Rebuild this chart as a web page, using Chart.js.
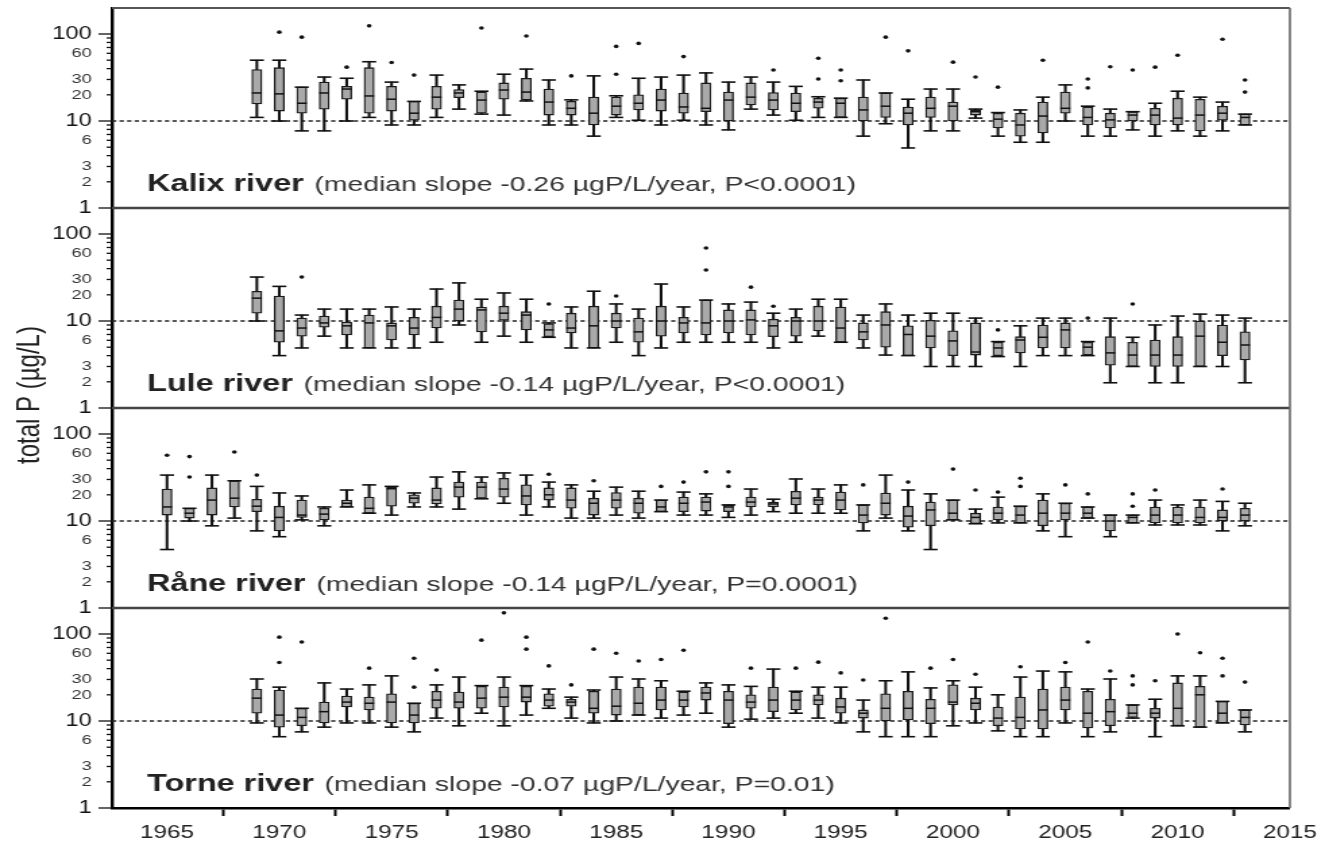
<!DOCTYPE html>
<html>
<head>
<meta charset="utf-8">
<script src="https://cdn.jsdelivr.net/npm/chart.js@4.4.1/dist/chart.umd.min.js"></script>
<style>
  html, body { margin: 0; padding: 0; background: #fff; }
  /* the original figure is stretched sideways, so the canvas is too */
  #chart { display: block; width: 1325px !important; height: 842px !important; }
</style>
</head>
<body>
<canvas id="chart" width="982" height="842" style="width:1325px;height:842px"></canvas>
<script>
const fontFamily = '"Liberation Sans", Arial, Helvetica, sans-serif';

const riverNames = ['Kalix river', 'Lule river', 'Råne river', 'Torne river'];
const riverNotes = [
  '(median slope -0.26 µgP/L/year, P<0.0001)',
  '(median slope -0.14 µgP/L/year, P<0.0001)',
  '(median slope -0.14 µgP/L/year, P=0.0001)',
  '(median slope -0.07 µgP/L/year, P=0.01)'
];
const yTitle = 'total P (µg/L)';

const xTickYears = [1965, 1970, 1975, 1980, 1985, 1990, 1995, 2000, 2005, 2010, 2015];
const yTickValues = [1, 2, 3, 4, 5, 6, 7, 8, 9, 10, 20, 30, 40, 50, 60, 70, 80, 90, 100];
const yTickLabels = [1, 2, 3, 6, 10, 20, 30, 60, 100];
const yMajorValues = [1, 10, 100];
const refLevel = 10;

const years69 = [1969, 1970, 1971, 1972, 1973, 1974, 1975, 1976, 1977, 1978, 1979, 1980, 1981, 1982, 1983,
  1984, 1985, 1986, 1987, 1988, 1989, 1990, 1991, 1992, 1993, 1994, 1995, 1996, 1997, 1998, 1999, 2000,
  2001, 2002, 2003, 2004, 2005, 2006, 2007, 2008, 2009, 2010, 2011, 2012, 2013];
const years65 = [1965, 1966, 1967, 1968, 1969, 1970, 1971, 1972, 1973, 1974, 1975, 1976, 1977, 1978, 1979,
  1980, 1981, 1982, 1983, 1984, 1985, 1986, 1987, 1988, 1989, 1990, 1991, 1992, 1993, 1994, 1995, 1996,
  1997, 1998, 1999, 2000, 2001, 2002, 2003, 2004, 2005, 2006, 2007, 2008, 2009, 2010, 2011, 2012, 2013];

// Kalix
const kalixLow = [11, 10, 7.7, 7.7, 10, 11, 9, 9, 11, 13.7, 12, 11.7, 17, 9, 9, 6.7, 11, 10.2, 9, 10.2, 9, 7.9, 13.7, 11.7, 10.2, 11, 11, 6.7, 9.3, 4.9, 7.7, 7.7, 10.8, 6.7, 5.7, 5.7, 10, 6.7, 6.7, 7.9, 6.7, 7.7, 6.7, 7.7, 9];
const kalixQ1 = [15.7, 13, 12.3, 13.7, 17.8, 12.3, 13, 10.2, 13.7, 18.5, 12.3, 17.8, 17.4, 11.7, 11.7, 9, 11.7, 13.4, 13, 12.3, 12.8, 10, 15.3, 13.4, 12.8, 14, 11, 10, 11, 9, 11, 10, 11.7, 8.3, 6.7, 7.3, 12.3, 9, 8.3, 10, 9, 9, 7.7, 10.2, 9];
const kalixMed = [21, 20.5, 16, 21, 23.3, 19.4, 17.8, 12.3, 18.8, 21, 17.4, 22.7, 21.5, 16.5, 14, 12.3, 14.8, 16, 17.4, 14.5, 14, 17.4, 18.8, 17.4, 16, 16.5, 16, 13.4, 14.8, 12.3, 14, 14.8, 12.8, 10.5, 9, 11.4, 14, 11, 10.3, 11.7, 11.7, 10.8, 11.7, 12.3, 11];
const kalixQ3 = [39, 41, 24.5, 28, 25, 41, 25, 16.8, 25, 23, 21.5, 27.4, 31, 23.3, 16.8, 18.8, 18.8, 20, 23.3, 21, 27.4, 21.5, 27.4, 21.2, 21, 18.3, 18.3, 18.8, 21, 14.5, 18.8, 16.5, 13.4, 12.3, 12.3, 16.5, 21.5, 14.5, 12.3, 12.8, 14, 18.3, 17.8, 14.8, 12];
const kalixHigh = [50, 50, 24.5, 32, 31, 48, 28, 16.8, 33.7, 26, 22, 34.5, 39.5, 29.6, 17.5, 33, 19.5, 31, 32, 33.7, 35.7, 28, 32, 28, 25, 19, 18.3, 29.6, 21, 17.8, 23.3, 23.3, 13.7, 12.5, 13.4, 18.8, 26, 14.8, 13.7, 12.8, 16, 22, 18.8, 16.5, 12];
const kalixOutliers = [[1970, 105], [1971, 92], [1973, 41.6], [1974, 124], [1975, 47], [1976, 33.7], [1979, 117], [1981, 95], [1983, 33], [1985, 34.5], [1985, 72], [1986, 78], [1988, 55], [1992, 38.6], [1994, 30.4], [1994, 52.6], [1995, 29], [1995, 38.6], [1997, 92], [1998, 64], [2000, 47.5], [2001, 32], [2002, 24.5], [2004, 50], [2006, 24], [2006, 30.4], [2007, 42], [2008, 38.6], [2009, 41.6], [2010, 57], [2012, 87], [2013, 21.5], [2013, 29.6]];

// Lule
const luleLow = [10, 4, 4.9, 6.7, 4.9, 4.9, 4.9, 4.9, 5.7, 9, 5.7, 6.7, 5.7, 6.5, 4.9, 4.9, 5.7, 4, 4.9, 5.7, 5.7, 5.7, 5.7, 4.9, 5.7, 6.7, 5.7, 4.9, 4.06, 4, 3, 3, 3, 3.9, 3, 4, 4, 4, 1.95, 3, 1.95, 1.95, 3, 3, 1.95];
const luleQ1 = [12.3, 5.7, 6.7, 8.5, 6.9, 4.9, 6.05, 6.9, 8.3, 10, 7.5, 10.2, 7.9, 6.6, 7.3, 4.9, 8.3, 5.7, 6.7, 7.3, 6.9, 7.3, 6.9, 6.6, 6.7, 7.7, 5.7, 6.05, 5, 4, 4.9, 4, 4.06, 4, 4.3, 4.9, 4.9, 4.06, 3.1, 3, 3, 3, 3, 4, 3.56];
const luleMed = [18.3, 7.7, 8.3, 9.5, 8.8, 9.5, 8.8, 8.3, 11, 13.7, 13.4, 12.3, 11.7, 7.9, 8.3, 8.8, 10, 7.5, 10, 9.5, 9.5, 10, 10.3, 8.8, 10, 10, 8.3, 7.5, 9, 7, 6.7, 5.9, 4.4, 4.9, 6.05, 6.5, 7.9, 5, 4.3, 4.06, 4.06, 4.06, 6.7, 5.7, 5.3];
const luleQ3 = [22, 19.4, 10.8, 11.4, 9.7, 11.7, 9.5, 11, 14.8, 17.4, 14.5, 14.8, 12.8, 9.3, 12.3, 14.8, 12.3, 10.8, 14.8, 11, 17.4, 13.4, 13.4, 10.5, 11, 14.8, 14.5, 9.5, 12.8, 8.8, 10.2, 7.7, 9.5, 5.7, 6.6, 9, 9.5, 5.7, 6.6, 5.7, 6.05, 6.6, 10, 9, 7.5];
const luleHigh = [32, 25, 11.7, 13.7, 13.7, 13.7, 14.5, 13.7, 23.3, 27.4, 17.8, 21, 17.8, 9.5, 14.5, 22, 15.7, 13.7, 26.6, 14.5, 17.4, 15.7, 16.5, 12.3, 13.7, 17.8, 17.8, 11.7, 15.7, 11.7, 12.3, 12.3, 10.8, 5.8, 8.8, 10.8, 10.8, 5.8, 10.8, 6.5, 9, 11.4, 12, 11.7, 10.8];
const luleOutliers = [[1971, 32], [1982, 15.7], [1985, 19.4], [1989, 38.6], [1989, 69], [1991, 24.5], [1992, 14.8], [2002, 7.9], [2006, 10.8], [2008, 15.7]];

// Råne
const raneLow = [4.7, 10, 8.8, 10.8, 7.7, 6.6, 10.3, 8.8, 14.5, 12.3, 11.7, 14.5, 14.5, 13.7, 18, 16, 11.7, 14.5, 10.8, 10.8, 11.7, 10.8, 12.8, 11.7, 11.7, 11, 11.7, 12.8, 12.3, 12.3, 12.3, 7.7, 10.8, 7.7, 4.7, 10.3, 9.3, 9.5, 9.5, 7.7, 6.6, 10.8, 6.6, 9.5, 9, 9, 9, 7.7, 8.8];
const raneQ1 = [11.7, 10.8, 11.7, 14.5, 12.8, 7.7, 11, 10.3, 14.5, 12.3, 14.8, 16, 15.7, 18.8, 18.3, 18.8, 15.3, 17.4, 14, 11.7, 14, 12.3, 12.8, 12.8, 13, 12.8, 14.5, 14.5, 15.3, 15.3, 13.4, 9.5, 11.7, 8.5, 8.8, 10.3, 9.3, 10.3, 9.5, 8.8, 10.3, 10.8, 7.7, 9.5, 9.5, 9.5, 9.5, 10, 10];
const raneMed = [14.5, 12.3, 17.4, 18.3, 14.8, 11, 11.7, 12, 16, 14, 23.5, 18.3, 17.4, 24.5, 24.5, 23.3, 19.4, 20, 17.4, 16, 17.4, 16, 14.5, 16, 16.5, 14.5, 16.5, 15.7, 18.3, 17.4, 17.4, 11.7, 16, 11.4, 13.4, 12.3, 11, 12.3, 11.7, 12.3, 12.3, 12.3, 10, 11, 11.7, 11.7, 11, 11, 11.7];
const raneQ3 = [23.3, 14, 24, 29, 17.8, 14.8, 17.4, 14, 17.4, 18.8, 24.5, 20, 24, 28, 28, 31, 26, 24, 24, 18.3, 21.2, 18.3, 17.4, 18.8, 18.8, 15.3, 18.8, 16.5, 22, 18.8, 21.5, 15.3, 21, 14.8, 16.5, 17.4, 12.3, 14.5, 14.8, 17.4, 16, 14.5, 11.7, 11.7, 14.5, 14.5, 14.5, 13.4, 14];
const raneHigh = [33.7, 14, 33.7, 29, 25, 21, 19.4, 14.5, 22.7, 26, 25, 21, 32, 36.7, 32, 35.7, 33.7, 28, 26, 22, 24.5, 22, 17.4, 21.5, 20.5, 15.3, 23.3, 17.8, 30.4, 23.3, 26, 15.3, 33.7, 22.7, 20.5, 17.4, 13.7, 18.8, 14.8, 20.5, 16, 14.5, 11.7, 11.7, 17.4, 15.3, 17.4, 16.8, 16];
const raneOutliers = [[1965, 57], [1966, 32], [1966, 55], [1968, 62], [1969, 33.7], [1982, 34.5], [1984, 29], [1987, 25], [1988, 28], [1989, 36.7], [1990, 25], [1990, 36.7], [1996, 26], [1998, 28], [2000, 39.5], [2001, 22.7], [2002, 21.5], [2003, 25], [2003, 31], [2005, 26], [2006, 20.5], [2008, 14.8], [2008, 20.5], [2009, 22.7], [2012, 23.3]];

// Torne
const torneLow = [9.5, 6.6, 7.5, 8.5, 9.5, 9.5, 8.5, 7.5, 10.8, 8.8, 12.3, 8.8, 11.7, 14, 10.8, 9.5, 10, 11.7, 10.8, 11.7, 12.3, 8.5, 10.5, 10.8, 12.3, 10.8, 9.5, 7.5, 6.6, 6.6, 6.6, 8.8, 9.5, 7.7, 6.6, 6.6, 9.5, 6.6, 7.5, 10.8, 6.6, 8.8, 8.5, 9.5, 7.5];
const torneQ1 = [12.3, 8.5, 8.8, 9.5, 14.5, 13.4, 9.5, 9.5, 14, 14, 14, 14.5, 16.5, 14.8, 14.8, 12.3, 11.7, 11.7, 13.4, 14.5, 17.4, 9.3, 14, 12.8, 13.4, 15.3, 12.3, 10.8, 10, 10.3, 9.3, 15.3, 13.4, 8.8, 8.1, 8.1, 13.4, 8.3, 8.8, 11, 10.8, 8.8, 8.5, 9.5, 9];
const torneMed = [18.3, 11.7, 11, 12.8, 16.5, 16, 16.5, 11.7, 17.4, 16.5, 18.3, 18.8, 18.8, 17.4, 16.5, 14, 14.8, 16, 17.4, 17.4, 21, 17.4, 16.5, 17.4, 17.4, 17.4, 14.5, 12.3, 14, 14, 14, 16.5, 16, 10.8, 11, 13.4, 17.4, 12.3, 12.8, 12.3, 12.3, 14, 20, 12.3, 11];
const torneQ3 = [23.3, 22.7, 14, 16.5, 19.4, 18.8, 20.5, 16, 22, 21.5, 25, 24.5, 25, 20.5, 17.8, 22, 23.3, 24.5, 24.5, 21.5, 24.5, 22, 20, 24.5, 21.5, 20, 18.3, 13.4, 20.5, 22, 17.8, 26, 18.3, 14.5, 18.8, 23.3, 24.5, 22, 17.8, 15.3, 14, 27.4, 25, 16.8, 13.4];
const torneHigh = [30.4, 24.5, 14, 27.4, 23.3, 26, 33, 16, 26, 32, 25.5, 32, 25.5, 23.3, 18.8, 22.7, 32, 30.4, 29, 22, 27.4, 26, 25, 39.5, 22, 24.5, 24.5, 17.4, 29, 36.7, 24, 29, 24.5, 20, 32, 37.5, 36.7, 23.3, 30.4, 15.3, 17.8, 33, 33, 16.8, 13.4];
const torneOutliers = [[1970, 92], [1970, 47], [1971, 81], [1974, 40.5], [1976, 24.5], [1976, 52.6], [1977, 38.6], [1979, 85], [1980, 175], [1981, 92], [1981, 67], [1982, 43], [1983, 26], [1984, 67], [1985, 60], [1986, 49], [1987, 51], [1988, 65], [1991, 40.5], [1993, 40.5], [1994, 47.5], [1995, 35.7], [1996, 29.6], [1997, 152], [1999, 40.5], [2000, 51], [2001, 34.5], [2003, 42], [2005, 47], [2006, 81], [2007, 37.5], [2008, 26], [2008, 33], [2009, 29], [2010, 100], [2011, 61], [2012, 33], [2012, 52.6], [2013, 28]];

const xMin = 1962.55;
const xMax = 2015;

// one row per panel, top to bottom
const rivers = [
  { years: years69, low: kalixLow, q1: kalixQ1, med: kalixMed, q3: kalixQ3, high: kalixHigh, out: kalixOutliers },
  { years: years69, low: luleLow, q1: luleQ1, med: luleMed, q3: luleQ3, high: luleHigh, out: luleOutliers },
  { years: years65, low: raneLow, q1: raneQ1, med: raneMed, q3: raneQ3, high: raneHigh, out: raneOutliers },
  { years: years69, low: torneLow, q1: torneQ1, med: torneMed, q3: torneQ3, high: torneHigh, out: torneOutliers }
];

// box plot of one river = several datasets on its own stacked y axis
function riverDatasets(river, r) {
  const axis = 'y' + r;
  const caps = [];
  river.years.forEach((yr, i) => {
    caps.push({ x: yr, y: river.low[i] });
    caps.push({ x: yr, y: river.high[i] });
  });
  return [
    {
      type: 'line', yAxisID: axis, order: 5,
      data: [{ x: xMin, y: refLevel }, { x: xMax, y: refLevel }],
      borderColor: '#222', borderWidth: 1.6, borderDash: [3.2, 2.4], pointRadius: 0
    },
    {
      type: 'bar', yAxisID: axis, order: 4, grouped: false,
      data: river.years.map((yr, i) => ({ x: yr, y: [river.low[i], river.high[i]] })),
      backgroundColor: '#111', borderWidth: 0, barThickness: 1.4
    },
    {
      type: 'bar', yAxisID: axis, order: 3, grouped: false,
      data: river.years.map((yr, i) => ({ x: yr, y: [river.q1[i], river.q3[i]] })),
      backgroundColor: '#a9a9a9', borderColor: '#1a1a1a', borderWidth: 1.3, borderSkipped: false, barThickness: 7.4
    },
    {
      type: 'scatter', yAxisID: axis, order: 2, data: caps,
      pointStyle: 'line', pointRadius: 5.2, pointBorderWidth: 1.6, pointBorderColor: '#111'
    },
    {
      type: 'scatter', yAxisID: axis, order: 1,
      data: river.years.map((yr, i) => ({ x: yr, y: river.med[i] })),
      pointStyle: 'line', pointRadius: 3.7, pointBorderWidth: 1.5, pointBorderColor: '#111'
    },
    {
      type: 'scatter', yAxisID: axis, order: 0,
      data: river.out.map(p => ({ x: p[0], y: p[1] })),
      pointStyle: 'circle', pointRadius: 1.8, pointBorderWidth: 0, pointBackgroundColor: '#111'
    }
  ];
}

const scales = {
  x: {
    type: 'linear', min: xMin, max: xMax, offset: false,
    afterBuildTicks: s => { s.ticks = xTickYears.map(v => ({ value: v })); },
    afterFit: s => { s.height = 34; },
    grid: { display: true, drawOnChartArea: false, drawTicks: true, tickLength: 8, tickColor: '#000', tickWidth: 2 },
    border: { display: true, color: '#000', width: 2.6 },
    ticks: { autoSkip: false, maxRotation: 0, padding: 6, color: '#222', font: { family: fontFamily, size: 18 }, callback: v => String(v) }
  }
};
// stacked axes are laid out bottom-up, so add the lowest panel first
for (let r = riverNames.length - 1; r >= 0; r--) {
  scales['y' + r] = {
    type: 'logarithmic', position: 'left', stack: 'rivers', stackWeight: 1,
    min: 1, max: 199,
    afterBuildTicks: s => { s.ticks = yTickValues.map(v => ({ value: v })); },
    afterFit: s => { s.width = 83; s.paddingTop = 0; s.paddingBottom = 0; },
    grid: { display: true, drawOnChartArea: false, drawTicks: false },
    border: { display: true, color: '#000', width: 2.4 },
    ticks: {
      autoSkip: false, padding: 15,
      callback: v => yTickLabels.includes(v) ? String(v) : '',
      color: ctx => (ctx.tick && yMajorValues.includes(ctx.tick.value)) ? '#111' : '#333',
      font: ctx => ({ family: fontFamily, size: (ctx.tick && yMajorValues.includes(ctx.tick.value)) ? 17.5 : 13.5 })
    }
  };
}

// frame lines, minor/major tick marks, panel captions and the shared y title
const panelDecor = {
  id: 'panelDecor',
  afterDraw(chart) {
    const ctx = chart.ctx;
    const area = chart.chartArea;
    ctx.save();
    riverNames.forEach((name, r) => {
      const sc = chart.scales['y' + r];
      ctx.strokeStyle = sc.top <= area.top + 1 ? '#555' : '#444';
      ctx.lineWidth = sc.top <= area.top + 1 ? 2 : 2.6;
      ctx.beginPath();
      ctx.moveTo(area.left, sc.top);
      ctx.lineTo(area.right, sc.top);
      ctx.stroke();

      ctx.strokeStyle = '#111';
      ctx.lineWidth = 1.3;
      yTickValues.forEach(v => {
        const py = sc.getPixelForValue(v);
        const len = yMajorValues.includes(v) ? 10 : 4;
        ctx.beginPath();
        ctx.moveTo(sc.right - len, py);
        ctx.lineTo(sc.right, py);
        ctx.stroke();
      });

      const base = sc.bottom - 17;
      ctx.textAlign = 'left';
      ctx.textBaseline = 'alphabetic';
      ctx.fillStyle = '#222';
      ctx.font = 'bold 24px ' + fontFamily;
      ctx.fillText(name, 109, base);
      const w = ctx.measureText(name).width;
      ctx.fillStyle = '#333';
      ctx.font = '21px ' + fontFamily;
      ctx.fillText(riverNotes[r], 109 + w + 8, base);
    });

    ctx.strokeStyle = '#666';
    ctx.lineWidth = 1.6;
    ctx.beginPath();
    ctx.moveTo(area.right, area.top);
    ctx.lineTo(area.right, area.bottom);
    ctx.stroke();

    ctx.translate(22, 395);
    ctx.rotate(-Math.PI / 2);
    ctx.fillStyle = '#222';
    ctx.font = '24px ' + fontFamily;
    ctx.textAlign = 'center';
    ctx.textBaseline = 'middle';
    ctx.fillText(yTitle, 0, 0);
    ctx.restore();
  }
};

let datasets = [];
rivers.forEach((river, r) => { datasets = datasets.concat(riverDatasets(river, r)); });

new Chart(document.getElementById('chart'), {
  type: 'bar',
  data: { datasets: datasets },
  options: {
    responsive: false,
    devicePixelRatio: 1,
    animation: false,
    events: [],
    layout: { padding: { left: 0, top: 8, right: 24.5, bottom: 0 } },
    scales: scales,
    plugins: { legend: { display: false }, tooltip: { enabled: false } }
  },
  plugins: [panelDecor]
});
</script>
</body>
</html>
